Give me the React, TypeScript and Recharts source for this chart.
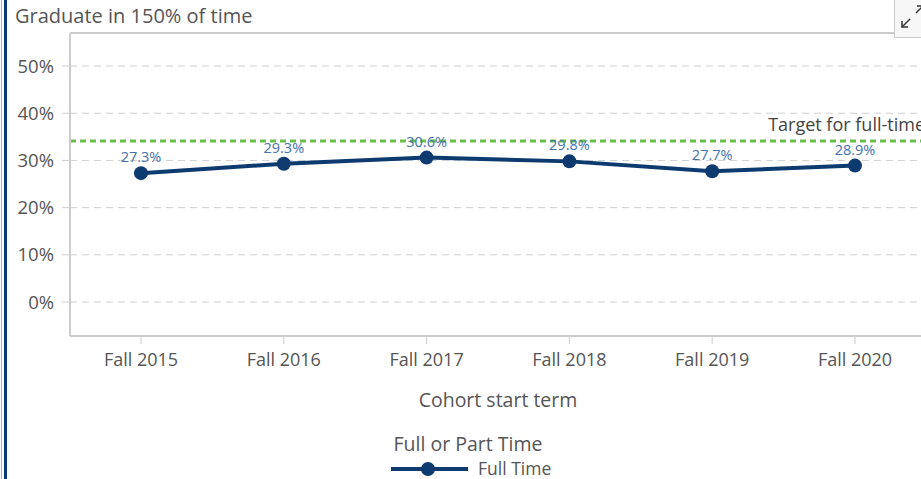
import React from 'react';
import { LineChart, Line, XAxis, YAxis, CartesianGrid, ReferenceLine, LabelList } from 'recharts';

const categories = ['Fall 2015', 'Fall 2016', 'Fall 2017', 'Fall 2018', 'Fall 2019', 'Fall 2020'];
const fullTime = [27.3, 29.3, 30.6, 29.8, 27.7, 28.9];
const yTicks = [0, 10, 20, 30, 40, 50];
const target = 34.1;
const targetLabel = 'Target for full-time';
const title = 'Graduate in 150% of time';
const xTitle = 'Cohort start term';
const legendTitle = 'Full or Part Time';
const seriesName = 'Full Time';

const data = categories.map((c, i) => ({ term: c, value: fullTime[i] }));

const FONT = '"Open Sans", sans-serif';
const NAVY = '#0d3b70';
const TEXT = '#555555';

const TargetLabel = (props: any) => {
  const vb = props.viewBox || {};
  const x = (vb.x ?? 0) + (vb.width ?? 0);
  const y = vb.y ?? 0;
  return (
    <text x={x - 1} y={y - 10} textAnchor="end" fontSize={18} fill="#444" fontFamily={FONT}>
      {targetLabel}
    </text>
  );
};

const XTitle = (props: any) => {
  const vb = props.viewBox || {};
  return (
    <text x={vb.x + vb.width / 2} y={vb.y + 71} textAnchor="middle" fontSize={19.5} fill={TEXT} fontFamily={FONT}>
      {xTitle}
    </text>
  );
};

export default function App() {
  return (
    <div style={{ position: 'fixed', left: 0, top: 0, width: 921, height: 479, overflow: 'hidden', background: '#fff', fontFamily: FONT }}>
      <div style={{ position: 'absolute', left: 1, top: 0, width: 1, height: 479, background: '#8dbbe6' }} />
      <div style={{ position: 'absolute', left: 4, top: 0, width: 3, height: 479, background: NAVY }} />
      <div style={{ position: 'absolute', left: 15, top: 2, fontSize: 20, lineHeight: '28px', color: TEXT, whiteSpace: 'nowrap' }}>{title}</div>
      <div style={{ position: 'absolute', left: 0, top: 0 }}>
        <LineChart width={926} height={479} data={data} margin={{ top: 33, right: 0, bottom: 0, left: 0 }}>
          <CartesianGrid horizontal vertical={false} stroke="#cfcfcf" strokeDasharray="7 5" />
          <XAxis
            dataKey="term"
            height={143}
            padding={{ left: 71, right: 71 }}
            tickLine={{ stroke: '#cccccc' }}
            tickSize={8}
            axisLine={{ stroke: '#cccccc', strokeWidth: 2 }}
            tick={{ fill: TEXT, fontSize: 18, fontFamily: FONT }}
            tickMargin={9}
            interval={0}
            label={<XTitle />}
          />
          <YAxis
            width={70}
            domain={[-7.2, 57]}
            ticks={yTicks}
            tickFormatter={(v: number) => `${v}%`}
            axisLine={{ stroke: '#cccccc', strokeWidth: 2 }}
            tickLine={{ stroke: '#cfcfcf', strokeDasharray: '7 5' }}
            tickSize={8}
            tickMargin={8}
            tick={{ fill: TEXT, fontSize: 18.5, fontFamily: FONT }}
            allowDataOverflow
          />
          <ReferenceLine y={57} stroke="#cccccc" strokeWidth={2} ifOverflow="extendDomain" />
          <ReferenceLine y={target} stroke="#6abf4b" strokeWidth={3} strokeDasharray="6 4" label={<TargetLabel />} />
          <Line
            dataKey="value"
            name={seriesName}
            stroke={NAVY}
            strokeWidth={4}
            dot={{ r: 7, fill: NAVY, stroke: NAVY, strokeWidth: 0 }}
            activeDot={false}
            isAnimationActive={false}
          >
            <LabelList dataKey="value" position="top" offset={11} formatter={(v: any) => `${v}%`} fill="#4572ad" fontSize={14.5} fontFamily={FONT} />
          </Line>
        </LineChart>
      </div>
      <div style={{ position: 'absolute', left: 0, width: 936, top: 430, textAlign: 'center', fontSize: 19.5, lineHeight: '28px', color: TEXT }}>{legendTitle}</div>
      <div style={{ position: 'absolute', left: 391, top: 459, height: 18, display: 'flex', alignItems: 'center' }}>
        <svg width={78} height={18}>
          <line x1={0} y1={10} x2={77} y2={10} stroke={NAVY} strokeWidth={4} />
          <circle cx={37} cy={10} r={7} fill={NAVY} />
        </svg>
        <span style={{ marginLeft: 9, fontSize: 17.5, lineHeight: '18px', color: TEXT }}>{seriesName}</span>
      </div>
      <div style={{ position: 'absolute', left: 894, top: -1, width: 30, height: 39, border: '1px solid #cccccc', background: '#f7f7f7', boxSizing: 'border-box' }}>
        <svg width={30} height={39}>
          <line x1={7} y1={27} x2={15} y2={19} stroke="#333" strokeWidth={1.5} />
          <polyline points="7,21 7,27 13,27" fill="none" stroke="#333" strokeWidth={1.5} />
          <line x1={21} y1={13} x2={28} y2={6} stroke="#333" strokeWidth={1.5} />
          <polyline points="22,6 28,6 28,12" fill="none" stroke="#333" strokeWidth={1.5} />
        </svg>
      </div>
    </div>
  );
}
